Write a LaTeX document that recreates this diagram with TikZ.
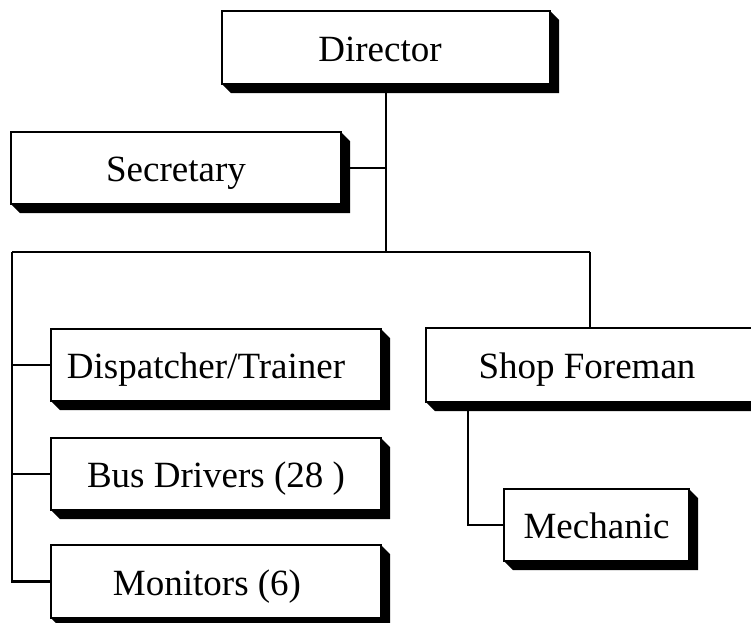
\documentclass[tikz,border=0pt]{standalone}
\usepackage{fontspec}
\setmainfont{Liberation Serif}
\begin{document}
\begin{tikzpicture}[x=1pt,y=-1pt,
  orgbox/.style={draw, line width=2.9pt, fill=white, inner sep=0pt, outer sep=0pt,
    text height=35pt, text depth=8pt,
    font=\fontsize{37}{42}\selectfont},
  link/.style={line width=2.6pt}]
\useasboundingbox (0,0) rectangle (751,622);
\clip (0,0) rectangle (751,622);

% boxed positions, each drawn with an extruded black shadow
\newcommand\shadowof[1]{%
  \fill (#1.north east) -- ++(9,9) -- ([shift={(9,9)}]#1.south east)
    -- ([shift={(9,9)}]#1.south west) -- (#1.south west) -- (#1.south east) -- cycle;}

\node[orgbox, minimum width=328, minimum height=73] (dir)  at (386,47.5) {\hspace*{-12pt}Director};
\node[orgbox, minimum width=330, minimum height=72] (sec)  at (176,168)  {Secretary};
\node[orgbox, minimum width=330, minimum height=72] (disp) at (216,365)  {\hspace*{-20pt}Dispatcher/Trainer};
\node[orgbox, minimum width=330, minimum height=72] (bus)  at (216,474)  {Bus Drivers (28 )};
\node[orgbox, minimum width=330, minimum height=73] (mon)  at (216,581.5){\hspace*{-18pt}Monitors (6)};
\node[orgbox, minimum width=340, minimum height=74] (fore) at (596,365)  {\hspace*{-18pt}Shop Foreman};
\node[orgbox, minimum width=185, minimum height=72] (mech) at (596.5,525){Mechanic};

\foreach \b in {dir,sec,disp,bus,mon,fore,mech} {\shadowof{\b}}

% connectors
\coordinate (jA) at (386,252);
\coordinate (jL) at (12,252);
\coordinate (jR) at (590,252);
\coordinate (fk) at (468,402);

\draw[link] (dir.south) -- (jA);
\draw[link] (sec.east) -- (sec.east -| jA);
\draw[link] (jL) -- (jR);
\draw[link] (jR) -- (jR |- fore.north);
\draw[link] (jL) |- (mon.west);
\draw[link] (disp.west -| jL) -- (disp.west);
\draw[link] (bus.west -| jL) -- (bus.west);
\draw[link] (fk) |- (mech.west);
\end{tikzpicture}
\end{document}
